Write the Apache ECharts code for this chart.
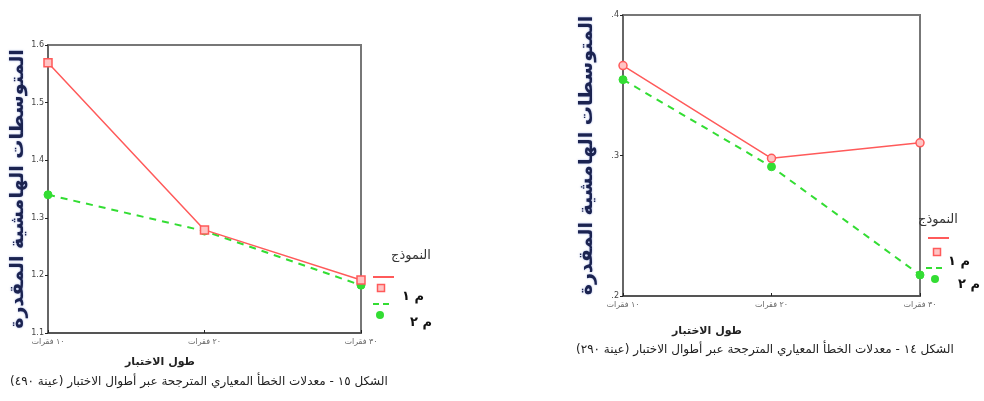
<!DOCTYPE html>
<html>
<head>
<meta charset="utf-8">
<script src="https://cdn.jsdelivr.net/npm/echarts@6/dist/echarts.min.js"></script>
<style>
html,body{margin:0;padding:0;background:#fff;}
#main{width:984px;height:401px;}
</style>
</head>
<body>
<div id="main"></div>
<script>
(function (window, echarts) {
    'use strict';

    // categories (test length)
    var lengths = ['١٠ فقرات', '٢٠ فقرات', '٣٠ فقرات'];
    var seriesNames = ['م ١', 'م ٢'];

    // figure 15 (left) - sample 490
    var leftModel1 = [1.569, 1.279, 1.192];
    var leftModel2 = [1.340, 1.277, 1.183];
    // figure 14 (right) - sample 290
    var rightModel1 = [0.364, 0.298, 0.309];
    var rightModel2 = [0.354, 0.292, 0.215];

    var yName = 'المتوسطات الهامشية المقدرة';
    var xName = 'طول الاختبار';
    var legendTitle = 'النموذج';
    var captionLeft = 'الشكل ١٥ - معدلات الخطأ المعياري المترجحة عبر أطوال الاختبار (عينة ٤٩٠)';
    var captionRight = 'الشكل ١٤ - معدلات الخطأ المعياري المترجحة عبر أطوال الاختبار (عينة ٢٩٠)';

    var font = 'DejaVu Sans';
    var red = '#ff5a5a';
    var green = '#33dd33';

    var myChart = echarts.init(document.getElementById('main'));

    function xAxis(idx) {
        return {
            type: 'category',
            gridIndex: idx,
            data: lengths,
            boundaryGap: false,
            axisLine: {lineStyle: {color: '#555', width: 2}},
            axisTick: {show: true, length: 3, inside: true, lineStyle: {color: '#222'}},
            axisLabel: {color: '#666', fontSize: 8, fontFamily: font, margin: 5}
        };
    }

    function yAxis(idx, min, max, fmt, gap) {
        return {
            type: 'value',
            gridIndex: idx,
            min: min,
            max: max,
            interval: 0.1,
            splitLine: {show: false},
            axisLine: {show: true, lineStyle: {color: '#666', width: 2}},
            axisTick: {show: true, length: 3, lineStyle: {color: '#222'}},
            axisLabel: {color: '#444', fontSize: 8, fontFamily: font, margin: 4, formatter: fmt},
            name: yName,
            nameLocation: 'middle',
            nameRotate: 90,
            nameGap: gap,
            nameTextStyle: {color: '#1b2350', fontSize: 19, fontWeight: 'bold', fontFamily: font,
                textShadowColor: 'rgba(60,90,200,0.5)', textShadowBlur: 2}
        };
    }

    function line(name, idx, data, color, dashed, symbol, hollow) {
        return {
            name: name,
            type: 'line',
            xAxisIndex: idx,
            yAxisIndex: idx,
            data: data,
            symbol: symbol,
            symbolSize: 8,
            lineStyle: {color: color, width: dashed ? 2 : 1.5, type: dashed ? [7, 6] : 'solid'},
            itemStyle: hollow
                ? {color: '#ffc4c4', borderColor: color, borderWidth: 1.5}
                : {color: color, borderColor: color},
            emphasis: {disabled: true},
            z: dashed ? 2 : 3
        };
    }

    // p: title, underline, marker1, label1, dashline, marker2, label2 positions
    function legendBlock(p) {
        return [
            {type: 'text', left: p.t[0], top: p.t[1], style: {text: legendTitle, font: '13px "' + font + '"', fill: '#333'}},
            {type: 'rect', left: p.u[0], top: p.u[1], shape: {width: 21, height: 2}, style: {fill: red}},
            {type: 'rect', shape: {x: p.m1[0] - 3.5, y: p.m1[1] - 3.5, width: 7, height: 7}, style: {fill: '#ffc4c4', stroke: red, lineWidth: 1.5}},
            {type: 'text', left: p.l1[0], top: p.l1[1], style: {text: seriesNames[0], font: 'bold 13px "' + font + '"', fill: '#111'}},
            {type: 'line', shape: {x1: p.d[0], y1: p.d[1], x2: p.d[0] + 20, y2: p.d[1]}, style: {stroke: green, lineWidth: 2, lineDash: [6, 4]}},
            {type: 'circle', shape: {cx: p.m2[0], cy: p.m2[1], r: 4}, style: {fill: green}},
            {type: 'text', left: p.l2[0], top: p.l2[1], style: {text: seriesNames[1], font: 'bold 13px "' + font + '"', fill: '#111'}}
        ];
    }

    var option = {
        backgroundColor: '#fff',
        animation: false,
        grid: [
            {left: 48, top: 45, width: 313, height: 288, show: true, borderColor: '#777', borderWidth: 2},
            {left: 623, top: 15, width: 297, height: 281, show: true, borderColor: '#777', borderWidth: 2}
        ],
        xAxis: [xAxis(0), xAxis(1)],
        yAxis: [
            yAxis(0, 1.1, 1.6, function (v) { return v.toFixed(1); }, 18),
            yAxis(1, 0.2, 0.4, function (v) { return v.toFixed(1).replace(/^0/, ''); }, 26)
        ],
        series: [
            line(seriesNames[0], 0, leftModel1, red, false, 'rect', true),
            line(seriesNames[1], 0, leftModel2, green, true, 'circle', false),
            line(seriesNames[0], 1, rightModel1, red, false, 'circle', true),
            line(seriesNames[1], 1, rightModel2, green, true, 'circle', false)
        ],
        graphic: [
            {type: 'text', left: 125, top: 357, style: {text: xName, font: 'bold 11px "' + font + '"', fill: '#222'}},
            {type: 'text', left: 10, top: 376, style: {text: captionLeft, font: '12px "' + font + '"', fill: '#222'}},
            {type: 'text', left: 672, top: 326, style: {text: xName, font: 'bold 11px "' + font + '"', fill: '#222'}},
            {type: 'text', left: 576, top: 344, style: {text: captionRight, font: '12px "' + font + '"', fill: '#222'}}
        ].concat(legendBlock({
            t: [391, 249], u: [373, 276], m1: [381, 288], l1: [402, 290],
            d: [373, 304], m2: [380, 315], l2: [410, 316]
        })).concat(legendBlock({
            t: [918, 213], u: [928, 237], m1: [937, 252], l1: [948, 255],
            d: [926, 268], m2: [935, 279], l2: [958, 278]
        }))
    };
    myChart.setOption(option);
})(window, echarts);
</script>
</body>
</html>
